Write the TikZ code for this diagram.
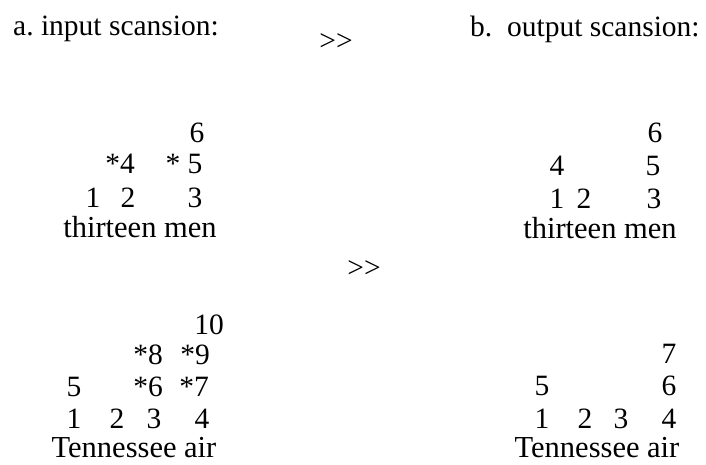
\documentclass[tikz,border=0pt]{standalone}
\usepackage{fontspec}
\setmainfont{Liberation Serif}
\begin{document}
\begin{tikzpicture}[x=1pt,y=-1pt,
  every node/.style={inner sep=0pt, font=\fontsize{29.5}{35}\selectfont},
  num/.style={anchor=base},
  word/.style={anchor=base, font=\fontsize{30.5}{36}\selectfont},
  lbl/.style={anchor=base west}]
\useasboundingbox (0,0) rectangle (706,464);
% headings
\node[lbl] (ha) at (13,35) {a.\ input scansion:};
\node[lbl] (hb) at (470,36) {b.\ \ output scansion:};
\node[num] (g1) at (336,50) {>\kern0pt>};
\node[num] (g2) at (364,277) {>\kern0pt>};
% a: thirteen men
\node[num] (a6) at (197,142) {6};
\node[num] (a4) at (120,173) {*4};
\node[num] (a5) at (184,173) {*\ 5};
\node[num] (a1) at (93,207) {1};
\node[num] (a2) at (128,207) {2};
\node[num] (a3) at (195,207) {3};
\node[word] (aw) at (140,237) {thirteen men};
% b: thirteen men
\node[num] (b6) at (655,142) {6};
\node[num] (b4) at (557,175) {4};
\node[num] (b5) at (653,175) {5};
\node[num] (b1) at (557,208) {1};
\node[num] (b2) at (584,208) {2};
\node[num] (b3) at (654,208) {3};
\node[word] (bw) at (600,238) {thirteen men};
% a: Tennessee air
\node[num] (c10) at (209,334) {10};
\node[num] (c8) at (148,364) {*8};
\node[num] (c9) at (195,364) {*9};
\node[num] (c5) at (74,396) {5};
\node[num] (c6) at (148,396) {*6};
\node[num] (c7) at (194,396) {*7};
\node[num] (c1) at (74,428) {1};
\node[num] (c2) at (117,428) {2};
\node[num] (c3) at (154,428) {3};
\node[num] (c4) at (202,428) {4};
\node[word] (cw) at (134,457) {Tennessee air};
% b: Tennessee air
\node[num] (d7) at (669,363) {7};
\node[num] (d5) at (542,395) {5};
\node[num] (d6) at (669,395) {6};
\node[num] (d1) at (542,428) {1};
\node[num] (d2) at (585,428) {2};
\node[num] (d3) at (621,428) {3};
\node[num] (d4) at (669,428) {4};
\node[word] (dw) at (597,457) {Tennessee air};
\end{tikzpicture}
\end{document}
